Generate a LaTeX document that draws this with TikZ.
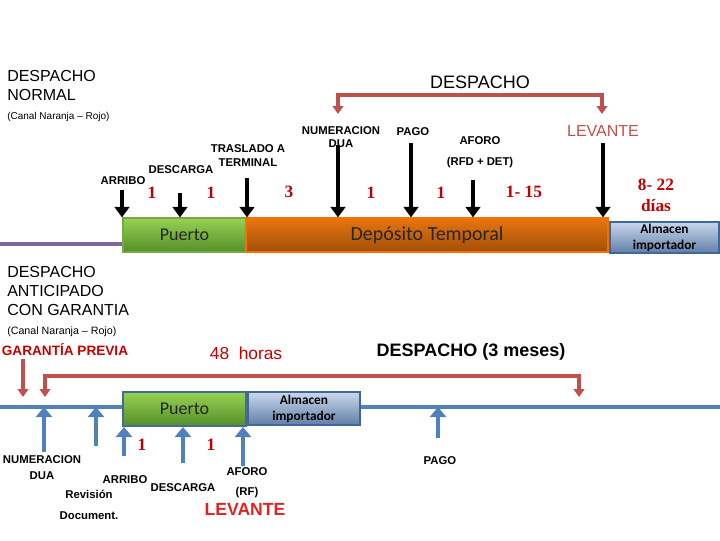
\documentclass[tikz,border=0pt]{standalone}
\usepackage{fontspec}
\setmainfont{Liberation Sans}
\newfontfamily\numfont{Liberation Serif}
\newfontfamily\boxfont{Carlito}
\usepackage{xcolor}
\usepackage{tikz}
\usetikzlibrary{arrows.meta}

\definecolor{bracketred}{HTML}{C0504D}
\definecolor{numred}{HTML}{C00000}
\definecolor{hotred}{HTML}{E02424}
\definecolor{blueline}{HTML}{4F81BD}
\definecolor{lilac}{HTML}{8064A2}
\definecolor{greentop}{RGB}{150,210,82}
\definecolor{greenbot}{RGB}{84,142,42}

\tikzset{
  title/.style={font=\fontsize{12}{14.25}\selectfont, inner sep=0pt, align=left, anchor=north west},
  canal/.style={font=\fontsize{7.5}{9}\selectfont, inner sep=0pt, anchor=west},
  lbl/.style={font=\bfseries\fontsize{8.5}{10}\selectfont, inner sep=0pt, align=center},
  num/.style={font=\numfont\bfseries\fontsize{13}{15.75}\selectfont, text=numred, inner sep=0pt, align=center},
  puertobox/.style={draw=greentop!80!black, line width=.8pt, top color=greentop, bottom color=greenbot, text=black!85,
    minimum width=92.25pt, minimum height=25.5pt, inner sep=0pt, font=\boxfont\fontsize{13.5}{14}\selectfont},
  depbox/.style={draw=orange!85!red, line width=.8pt, top color={rgb,255:red,232;green,117;blue,15}, bottom color={rgb,255:red,162;green,79;blue,8},
    text=black!85, minimum width=271.5pt, minimum height=25.5pt, inner sep=0pt, font=\boxfont\fontsize{15}{16}\selectfont},
  almbox/.style={draw=blueline!80!black, line width=.9pt, top color={rgb,255:red,200;green,216;blue,236}, bottom color={rgb,255:red,98;green,126;blue,168},
    inner sep=0pt, align=center, font=\boxfont\bfseries\fontsize{10}{12}\selectfont},
  blkarrow/.style={line width=2.6pt, -{Triangle[width=11pt,length=8pt]}},
  bluearrow/.style={draw=blueline, line width=3pt, -{Triangle[width=12pt,length=7.5pt]}},
  bracket/.style={draw=bracketred, line width=3pt, {Triangle[width=8pt,length=6pt]}-{Triangle[width=8pt,length=6pt]}},
  redarrow/.style={draw=bracketred, line width=3pt, -{Triangle[width=8pt,length=6pt]}}
}

\begin{document}
\begin{tikzpicture}[x=0.75pt,y=-0.75pt]
  \useasboundingbox (0,0) rectangle (720,540);

  % % DESPACHO NORMAL
  \node[title] (normal) at (7,70) {DESPACHO\\NORMAL};
  \node[canal] (canalA) at (7,117) {(Canal Naranja -- Rojo)};
  \node[font=\fontsize{13.5}{14}\selectfont, inner sep=0pt] (despA) at (480,82) {DESPACHO};

  \node[lbl, text=bracketred, font=\fontsize{12}{14}\selectfont] (levA) at (603,131) {LEVANTE};
  \node[lbl, font=\bfseries\fontsize{8.5}{9.75}\selectfont] (numA) at (341,137) {NUMERACION\\DUA};
  \node[lbl] (pagoA) at (413,132) {PAGO};
  \node[lbl] (aforoA) at (480,141) {AFORO};
  \node[lbl] (rfdA) at (480,163) {(RFD + DET)};
  \node[lbl, font=\bfseries\fontsize{8.5}{10.5}\selectfont] (trasA) at (248,156) {TRASLADO A\\TERMINAL};
  \node[lbl] (descA) at (181,170) {DESCARGA};
  \node[lbl] (arrA) at (123,181) {ARRIBO};

  \node[num] (nA1) at (152,193) {1};
  \node[num] (nA2) at (211,193) {1};
  \node[num] (nA3) at (289,192) {3};
  \node[num] (nA4) at (371,193) {1};
  \node[num] (nA5) at (441,193) {1};
  \node[num] (nA6) at (524,192) {1- 15};
  \node[num] (nA7) at (656,195) {8- 22\\días};

  \coordinate (lineA) at (0,244);
  \node[puertobox] (puertoA) at (184.5,235) {Puerto};
  \node[depbox] (depA) at (427,235) {Depósito Temporal};
  \node[almbox, minimum width=81.75pt, minimum height=23.25pt] (almA) at (664.5,237.5) {Almacen\\importador};
  \draw[lilac, line width=3pt] (lineA) -- (lineA -| puertoA.west);

  % bracket over the despacho
  \coordinate (dA) at (338,114);
  \coordinate (dB) at (602,114);
  \coordinate (dM) at (470,95);
  \draw[bracket] (dA) |- (dM) -| (dB);

  \foreach \n/\x/\y in {a/122/190,b/180/193,c/247/178}{
    \coordinate (ar\n) at (\x,\y);
    \draw[blkarrow] (ar\n) -- (ar\n |- puertoA.north);
  }
  \foreach \n/\x/\y in {d/338/145,e/411/143,f/473/180,g/603/143}{
    \coordinate (ar\n) at (\x,\y);
    \draw[blkarrow] (ar\n) -- (ar\n |- depA.north);
  }

  % % DESPACHO ANTICIPADO
  \node[title] (antic) at (7,266) {DESPACHO\\ANTICIPADO\\CON GARANTIA};
  \node[canal, font=\fontsize{8}{9}\selectfont] (canalB) at (7,332) {(Canal Naranja -- Rojo)};
  \node[lbl, text=numred!90!red, font=\bfseries\fontsize{10.2}{12}\selectfont] (garantia) at (65,350) {GARANTÍA PREVIA};
  \node[lbl, text=numred!90!red, font=\fontsize{13}{14}\selectfont] (horas) at (246,353) {48\ \ horas};
  \node[lbl, font=\bfseries\fontsize{13.5}{14}\selectfont] (despB) at (471,352) {DESPACHO (3 meses)};

  \coordinate (blL) at (0,407);
  \coordinate (blR) at (720,407);
  \draw[blueline, line width=3pt] (blL) -- (blR);

  \node[puertobox, draw={rgb,255:red,74;green,106;blue,148}, line width=1.5pt] (puertoB) at (184.5,409) {Puerto};
  \node[almbox, minimum width=84pt, minimum height=24.75pt] (almB) at (304,408.5) {Almacen\\importador};

  \coordinate (gA) at (45,397);
  \coordinate (gB) at (579,397);
  \coordinate (gM) at (300,376);
  \draw[bracket] (gA) |- (gM) -| (gB);
  \coordinate (gQ) at (23,397);
  \draw[redarrow] (gQ |- garantia.south) ++(0,3) -- (gQ);

  \node[num] (nB1) at (142,445) {1};
  \node[num] (nB2) at (211,445) {1};

  \node[lbl, font=\bfseries\fontsize{8.5}{12}\selectfont] (numB) at (42,468) {NUMERACION\\DUA};
  \node[lbl] (arrB) at (125,480) {ARRIBO};
  \node[lbl] (revB) at (89,494) {Revisión};
  \node[lbl] (docB) at (89,516) {Document.};
  \node[lbl] (descB) at (183,488) {DESCARGA};
  \node[lbl] (aforoB) at (247,472) {AFORO};
  \node[lbl] (rfB) at (247,493) {(RF)};
  \node[lbl, text=hotred, font=\bfseries\fontsize{13.2}{14}\selectfont] (levB) at (245,509) {LEVANTE};
  \node[lbl] (pagoB) at (440,461) {PAGO};

  \foreach \n/\x/\y in {a/44/452,b/96/446,f/438/438}{
    \coordinate (ba\n) at (\x,\y);
    \draw[bluearrow] (ba\n) -- (ba\n |- blL);
  }
  \foreach \n/\x/\y in {c/124/456,d/183/463,e/243/466}{
    \coordinate (ba\n) at (\x,\y);
    \draw[bluearrow] (ba\n) -- (ba\n |- puertoB.south);
  }
\end{tikzpicture}
\end{document}
